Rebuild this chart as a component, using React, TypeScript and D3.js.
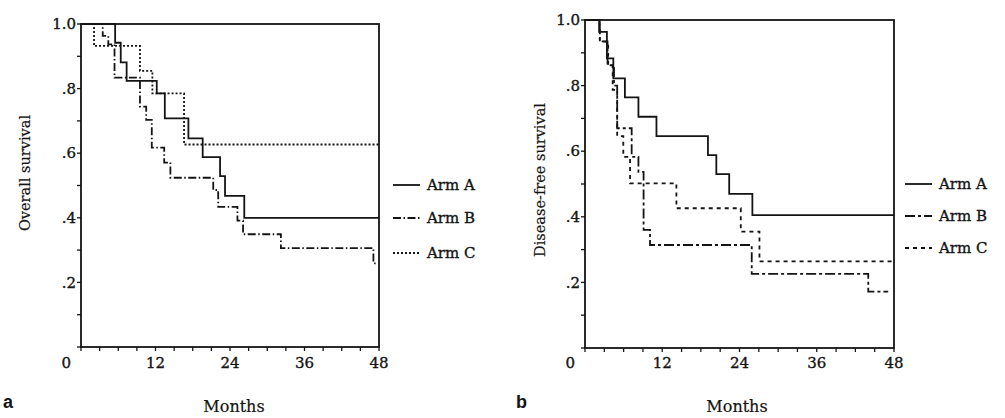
import React from "react";
import * as d3 from "d3";

// Kaplan–Meier step data: [month, survival proportion]
const osArmA: [number, number][] = [
  [0, 1], [5.5, 0.942], [6.4, 0.881], [7.35, 0.824], [12.2, 0.785], [13.5, 0.708],
  [17.3, 0.646], [19.6, 0.588], [22.4, 0.529], [23.2, 0.468], [26.3, 0.40], [48, 0.40],
];
const osArmB: [number, number][] = [
  [0, 1], [3.5, 0.963], [4.4, 0.937], [5.4, 0.834], [9.5, 0.744], [10.5, 0.703],
  [11.4, 0.617], [13.4, 0.571], [14.4, 0.524], [21.3, 0.486], [22.1, 0.434],
  [25.2, 0.391], [26.1, 0.349], [32.2, 0.306], [47.1, 0.259], [47.6, 0.259],
];
const osArmC: [number, number][] = [
  [0, 1], [2.1, 0.932], [9.5, 0.855], [11.5, 0.785], [16.6, 0.627], [48, 0.627],
];

const dfsArmA: [number, number][] = [
  [0, 1], [2.2, 0.964], [3.4, 0.883], [4.4, 0.822], [6.2, 0.764], [8.3, 0.705],
  [11.1, 0.646], [19.1, 0.588], [20.4, 0.53], [22.4, 0.47], [26.0, 0.405], [48, 0.405],
];
const dfsArmB: [number, number][] = [
  [0, 1], [2.3, 0.935], [3.5, 0.862], [4.5, 0.80], [5.0, 0.67], [7.25, 0.583],
  [8.3, 0.537], [9.1, 0.36], [10.1, 0.314], [25.9, 0.226], [44.0, 0.172], [47.1, 0.172],
];
const dfsArmC: [number, number][] = [
  [0, 1], [2.3, 0.934], [3.6, 0.862], [4.3, 0.787], [5.0, 0.646], [5.95, 0.583],
  [7.0, 0.502], [14.2, 0.426], [24.2, 0.355], [27.1, 0.264], [48, 0.264],
];

const armNames = ["Arm A", "Arm B", "Arm C"];
const monthTicks = [12, 24, 36, 48];
const survTicks = [0.2, 0.4, 0.6, 0.8, 1.0];
const survTickLabels = [".2", ".4", ".6", ".8", "1.0"];

const INK = "#141414";
const SERIF = "'DejaVu Serif', 'Liberation Serif', serif";
// slight outline gives the serif labels a heavier, printed look
const textStyle = { fontFamily: SERIF, fill: INK, stroke: INK, strokeWidth: 0.35 };

type PanelProps = {
  x0: number; x1: number; y0: number; y1: number;
  series: [number, number][][];
  dashes: (string | undefined)[];
  yTitle: string; yTitleX: number; yTitleY: number;
  legendX: number; legendYs: number[];
  letter: string; letterX: number; letterY: number;
  monthsX: number;
};

function Panel(p: PanelProps) {
  const x = d3.scaleLinear().domain([0, 48]).range([p.x0, p.x1]);
  const y = d3.scaleLinear().domain([0, 1]).range([p.y1, p.y0]);
  const line = d3
    .line<[number, number]>()
    .x((d) => x(d[0]))
    .y((d) => y(d[1]))
    .curve(d3.curveStepAfter);

  const minorX = d3.range(0, 49, 3);
  const minorY = d3.range(0, 1.001, 0.1);

  return (
    <g>
      {/* frame */}
      <rect x={p.x0} y={p.y0} width={p.x1 - p.x0} height={p.y1 - p.y0}
        fill="none" stroke={INK} strokeWidth={1.8} />
      {minorX.map((m) => (
        <line key={"tx" + m} x1={x(m)} x2={x(m)} y1={p.y1} y2={p.y1 + 4}
          stroke={INK} strokeWidth={1.3} />
      ))}
      {minorY.map((v, i) => (
        <line key={"ty" + i} x1={p.x0 - 4} x2={p.x0} y1={y(v)} y2={y(v)}
          stroke={INK} strokeWidth={1.3} />
      ))}
      {monthTicks.map((m) => (
        <text key={"lx" + m} x={x(m)} y={368} textAnchor="middle" fontSize={15} {...textStyle}>{m}</text>
      ))}
      <text x={p.x0 - 10} y={368} textAnchor="end" fontSize={15} {...textStyle}>0</text>
      {survTicks.map((v, i) => (
        <text key={"ly" + v} x={p.x0 - 5} y={y(v)} dy="0.35em" textAnchor="end"
          fontSize={15} {...textStyle}>{survTickLabels[i]}</text>
      ))}
      <text transform={`translate(${p.yTitleX},${p.yTitleY}) rotate(-90)`} textAnchor="middle"
        fontSize={14.5} {...textStyle} strokeWidth={0.2}>{p.yTitle}</text>
      <text x={p.monthsX} y={412} textAnchor="middle" fontSize={16} {...textStyle} strokeWidth={0.2}>Months</text>
      <text x={p.letterX} y={p.letterY} fontFamily="'Liberation Sans', Arial, sans-serif"
        fontWeight="bold" fontSize={18} fill={INK}>{p.letter}</text>

      {p.series.map((s, i) => (
        <path key={"s" + i} d={line(s) ?? ""} fill="none" stroke={INK} strokeWidth={1.8}
          strokeDasharray={p.dashes[i]} />
      ))}

      {armNames.map((name, i) => (
        <g key={name}>
          <line x1={p.legendX} x2={p.legendX + 27} y1={p.legendYs[i]} y2={p.legendYs[i]}
            stroke={INK} strokeWidth={1.8} strokeDasharray={p.dashes[i]} />
          <text x={p.legendX + 34} y={p.legendYs[i]} dy="0.35em" fontSize={15} {...textStyle}>{name}</text>
        </g>
      ))}
    </g>
  );
}

export default function App() {
  return (
    <svg width={1005} height={418} style={{ position: "absolute", left: 0, top: 0, background: "#fff" }}>
      <rect width={1005} height={418} fill="#fff" />
      <Panel x0={81} x1={379} y0={24} y1={347}
        series={[osArmA, osArmB, osArmC]}
        dashes={[undefined, "8,2.5,1.5,2.5", "2,2"]}
        yTitle="Overall survival" yTitleX={30} yTitleY={173}
        legendX={393} legendYs={[185, 218, 253]}
        letter="a" letterX={3} letterY={408} monthsX={234} />
      <Panel x0={585} x1={894} y0={20} y1={348}
        series={[dfsArmA, dfsArmB, dfsArmC]}
        dashes={[undefined, "10,3,3,3", "4,4"]}
        yTitle="Disease-free survival" yTitleX={545} yTitleY={180}
        legendX={905} legendYs={[184, 216, 248]}
        letter="b" letterX={516} letterY={408} monthsX={737} />
    </svg>
  );
}
